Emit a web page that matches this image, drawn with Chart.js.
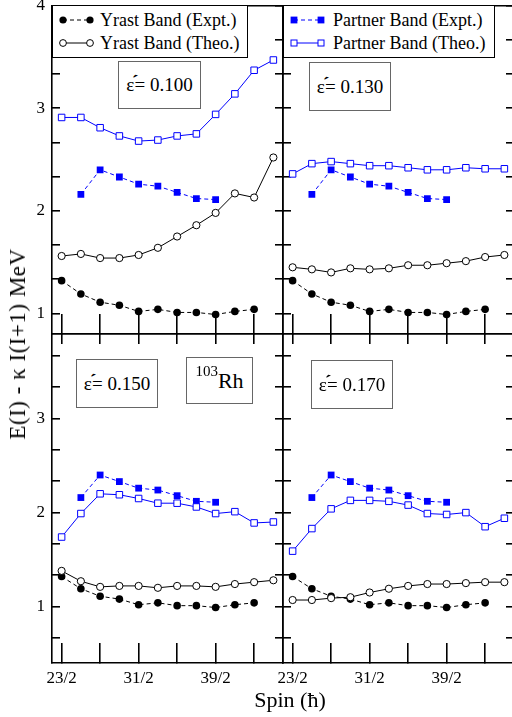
<!DOCTYPE html>
<html>
<head>
<meta charset="utf-8">
<script src="https://cdn.jsdelivr.net/npm/chart.js@4.4.1/dist/chart.umd.min.js"></script>
<style>
  html, body { margin: 0; padding: 0; background: #fff; }
  #page { position: relative; width: 512px; height: 717px; overflow: hidden; font-family: "Liberation Serif", "Times New Roman", serif; color: #000; }
  canvas { position: absolute; }
  .legend { position: absolute; background: #fff; border: 1.5px solid #000; box-sizing: border-box; font-size: 18px; }
  .legend .row { position: absolute; left: 0; height: 20px; line-height: 20px; white-space: nowrap; }
  .legend svg { position: absolute; top: 4px; }
  .legend span { position: absolute; top: 0; }
  .tag { position: absolute; background: #fff; border: 1.5px solid #666; box-sizing: border-box; display: flex; align-items: center; justify-content: center; font-size: 19px; white-space: nowrap; }
  .acc { display: inline-block; font-weight: bold; transform: translate(-3px, -3px) rotate(10deg); margin-right: -6px; }
  .ytitle { position: absolute; left: 18px; top: 344px; transform: translate(-50%, -50%) rotate(-90deg); font-size: 23px; letter-spacing: 0.5px; white-space: nowrap; }
  .xtitle { position: absolute; left: 290px; top: 700px; transform: translate(-50%, -50%); font-size: 22px; white-space: nowrap; }
</style>
</head>
<body>
<div id="page">
  <canvas id="tl" width="291" height="342" style="left:0;top:0"></canvas>
  <canvas id="tr" width="247" height="342" style="left:275px;top:0"></canvas>
  <canvas id="bl" width="291" height="391" style="left:0;top:326px"></canvas>
  <canvas id="br" width="247" height="391" style="left:275px;top:326px"></canvas>

  <div class="legend" style="left:52px;top:5px;width:196px;height:53px">
    <div class="row" style="top:4px">
      <svg width="40" height="12" style="left:6px"><line x1="4" y1="6" x2="31" y2="6" stroke="#000" stroke-dasharray="4,3"/><circle cx="4" cy="6" r="3.6" fill="#000"/><circle cx="31" cy="6" r="3.6" fill="#000"/></svg>
      <span style="left:47px">Yrast Band (Expt.)</span>
    </div>
    <div class="row" style="top:27px">
      <svg width="40" height="12" style="left:6px"><line x1="4" y1="6" x2="31" y2="6" stroke="#000"/><circle cx="4" cy="6" r="3.4" fill="#fff" stroke="#000"/><circle cx="31" cy="6" r="3.4" fill="#fff" stroke="#000"/></svg>
      <span style="left:47px">Yrast Band (Theo.)</span>
    </div>
  </div>
  <div class="legend" style="left:283px;top:5px;width:212px;height:53px">
    <div class="row" style="top:4px">
      <svg width="40" height="12" style="left:6px"><line x1="4" y1="6" x2="31" y2="6" stroke="#00f" stroke-dasharray="4,3"/><rect x="0.6" y="2.6" width="6.8" height="6.8" fill="#00f"/><rect x="27.6" y="2.6" width="6.8" height="6.8" fill="#00f"/></svg>
      <span style="left:49px">Partner Band (Expt.)</span>
    </div>
    <div class="row" style="top:27px">
      <svg width="40" height="12" style="left:6px"><line x1="4" y1="6" x2="31" y2="6" stroke="#00f"/><rect x="1" y="3" width="6" height="6" fill="#fff" stroke="#00f"/><rect x="28" y="3" width="6" height="6" fill="#fff" stroke="#00f"/></svg>
      <span style="left:49px">Partner Band (Theo.)</span>
    </div>
  </div>

  <div class="tag" style="left:118px;top:61px;width:83px;height:48px">ε<span class="acc">´</span>= 0.100</div>
  <div class="tag" style="left:309px;top:62px;width:82px;height:49px">ε<span class="acc">´</span>= 0.130</div>
  <div class="tag" style="left:76px;top:359px;width:82px;height:49px">ε<span class="acc">´</span>= 0.150</div>
  <div class="tag" style="left:186px;top:357px;width:67px;height:47px"><span style="font-size:15px;position:relative;top:-9px">103</span><span style="font-size:22px">Rh</span></div>
  <div class="tag" style="left:311px;top:360px;width:82px;height:49px">ε<span class="acc">´</span>= 0.170</div>

  <div class="ytitle">E(I) - κ I(I+1) MeV</div>
  <div class="xtitle">Spin (ħ)</div>
</div>

<script>
// spin values in units of 1/2 (2I)
const spins = [23, 25, 27, 29, 31, 33, 35, 37, 39, 41, 43, 45];
const xTickValues = [23, 27, 31, 35, 39, 43];
const xTickLabels = ['23/2', '31/2', '39/2'];

// experiment (same in every panel)
const yrastExpt = [1.32, 1.19, 1.11, 1.08, 1.02, 1.04, 1.01, 1.01, 0.99, 1.02, 1.04];
const partnerExpt = [2.16, 2.40, 2.33, 2.26, 2.24, 2.18, 2.12, 2.11];

// theory, one pair per deformation
const yrastTheo100 = [1.56, 1.58, 1.54, 1.54, 1.57, 1.64, 1.75, 1.86, 1.98, 2.17, 2.13, 2.52];
const partnerTheo100 = [2.91, 2.91, 2.81, 2.73, 2.68, 2.69, 2.73, 2.75, 2.94, 3.14, 3.37, 3.47];
const yrastTheo130 = [1.45, 1.43, 1.40, 1.44, 1.43, 1.44, 1.47, 1.47, 1.49, 1.51, 1.55, 1.57];
const partnerTheo130 = [2.36, 2.46, 2.48, 2.46, 2.44, 2.44, 2.42, 2.40, 2.40, 2.42, 2.41, 2.41];
const yrastTheo150 = [1.38, 1.27, 1.21, 1.22, 1.22, 1.20, 1.22, 1.22, 1.21, 1.24, 1.26, 1.28];
const partnerTheo150 = [1.74, 1.99, 2.20, 2.19, 2.15, 2.10, 2.10, 2.06, 1.99, 2.01, 1.89, 1.90];
const yrastTheo170 = [1.07, 1.07, 1.09, 1.10, 1.15, 1.19, 1.22, 1.24, 1.24, 1.25, 1.26, 1.26];
const partnerTheo170 = [1.59, 1.83, 2.04, 2.13, 2.13, 2.12, 2.08, 1.99, 1.98, 2.00, 1.85, 1.94];

const tickFont = { family: 'Liberation Serif', size: 17 };

function pts(values, start) {
    return values.map((v, i) => ({ x: spins[i + start], y: v }));
}

function bandSets(yTheo, pTheo) {
    return [
        {
            label: 'Partner Band (Theo.)', data: pts(pTheo, 0),
            borderColor: '#0000ff', borderWidth: 1,
            pointStyle: 'rect', pointRadius: 4.6, pointBorderWidth: 1,
            pointBackgroundColor: '#fff', pointBorderColor: '#0000ff'
        },
        {
            label: 'Partner Band (Expt.)', data: pts(partnerExpt, 1),
            borderColor: '#0000ff', borderWidth: 1, borderDash: [4, 3],
            pointStyle: 'rect', pointRadius: 4.8, pointBorderWidth: 0,
            pointBackgroundColor: '#0000ff', pointBorderColor: '#0000ff'
        },
        {
            label: 'Yrast Band (Theo.)', data: pts(yTheo, 0),
            borderColor: '#000', borderWidth: 1,
            pointStyle: 'circle', pointRadius: 3.6, pointBorderWidth: 1,
            pointBackgroundColor: '#fff', pointBorderColor: '#000'
        },
        {
            label: 'Yrast Band (Expt.)', data: pts(yrastExpt, 0),
            borderColor: '#000', borderWidth: 1, borderDash: [4, 3],
            pointStyle: 'circle', pointRadius: 3.8, pointBorderWidth: 0,
            pointBackgroundColor: '#000', pointBorderColor: '#000'
        }
    ];
}

function thirdTicks(axis) {
    const lo = Math.ceil(axis.min * 3 - 1e-6), hi = Math.floor(axis.max * 3 + 1e-6);
    const t = [];
    for (let k = lo; k <= hi; k++) t.push({ value: k / 3 });
    axis.ticks = t;
}

function makePanel(id, yTheo, pTheo, p) {
    new Chart(document.getElementById(id), {
        type: 'line',
        data: { datasets: bandSets(yTheo, pTheo) },
        options: {
            responsive: false,
            animation: false,
            layout: { padding: { left: 0, top: p.top, right: 8, bottom: 0 } },
            plugins: { legend: { display: false }, tooltip: { enabled: false } },
            scales: {
                x: {
                    type: 'linear', position: 'bottom', min: 22, max: 46,
                    afterBuildTicks: ax => { ax.ticks = xTickValues.map(v => ({ value: v })); },
                    afterFit: s => { s.height = p.xh; s.paddingLeft = 0; s.paddingRight = 0; },
                    ticks: {
                        display: p.xLabels, autoSkip: false, maxRotation: 0, padding: 25,
                        color: '#000', font: tickFont,
                        callback: v => xTickLabels.includes(v + '/2') ? v + '/2' : ''
                    },
                    grid: { drawOnChartArea: false, tickLength: -20, color: '#000', lineWidth: 1.6 },
                    border: { color: '#000', width: 1.6 }
                },
                x2: {
                    type: 'linear', axis: 'x', position: 'top', min: 22, max: 46,
                    afterBuildTicks: ax => { ax.ticks = xTickValues.map(v => ({ value: v })); },
                    afterFit: s => { s.height = 0; s.paddingLeft = 0; s.paddingRight = 0; },
                    ticks: { display: false },
                    grid: { drawOnChartArea: false, drawTicks: p.topTicks, tickLength: -10, color: '#000', lineWidth: 1.6 },
                    border: { color: '#000', width: 1.6 }
                },
                y: {
                    type: 'linear', position: 'left', min: p.ymin, max: p.ymax,
                    afterBuildTicks: thirdTicks,
                    afterFit: s => { s.width = p.yw; s.paddingTop = 0; s.paddingBottom = 0; },
                    ticks: {
                        display: p.yLabels, autoSkip: false, padding: 15,
                        color: '#000', font: tickFont,
                        callback: v => Math.abs(v - Math.round(v)) < 1e-6 ? String(Math.round(v)) : ''
                    },
                    grid: { drawOnChartArea: false, tickLength: -8, color: '#000', lineWidth: 1.6 },
                    border: { color: '#000', width: 1.6 }
                },
                y2: {
                    type: 'linear', axis: 'y', position: 'right', min: p.ymin, max: p.ymax,
                    afterBuildTicks: thirdTicks,
                    afterFit: s => { s.width = 0; s.paddingTop = 0; s.paddingBottom = 0; },
                    ticks: { display: false },
                    grid: { drawOnChartArea: false, tickLength: -8, color: '#000', lineWidth: 1.6 },
                    border: { color: '#000', width: 1.6 }
                }
            }
        }
    });
}

const topPanel = { top: 5, xh: 8, ymin: 0.8, ymax: 4, xLabels: false, topTicks: false };
const bottomPanel = { top: 8, xh: 54, ymin: 0.4, ymax: 3.9, xLabels: true, topTicks: true };

makePanel('tl', yrastTheo100, partnerTheo100, Object.assign({ yw: 52, yLabels: true }, topPanel));
makePanel('tr', yrastTheo130, partnerTheo130, Object.assign({ yw: 8, yLabels: false }, topPanel));
makePanel('bl', yrastTheo150, partnerTheo150, Object.assign({ yw: 52, yLabels: true }, bottomPanel));
makePanel('br', yrastTheo170, partnerTheo170, Object.assign({ yw: 8, yLabels: false }, bottomPanel));
</script>
</body>
</html>
